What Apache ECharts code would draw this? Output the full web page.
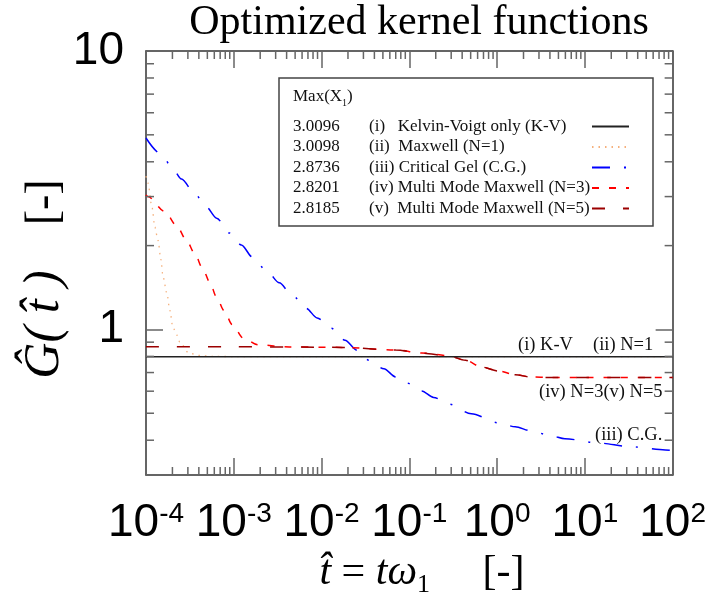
<!DOCTYPE html>
<html>
<head>
<meta charset="utf-8">
<script src="https://cdn.jsdelivr.net/npm/echarts@6/dist/echarts.min.js"></script>
<style>
  html, body { margin: 0; padding: 0; background: #fff; }
  #chart { width: 709px; height: 596px; }
</style>
</head>
<body>
<div id="chart"></div>
<script>
// legend rows
const seriesNames = [
  '(i)   Kelvin-Voigt only (K-V)',
  '(ii)  Maxwell (N=1)',
  '(iii) Critical Gel (C.G.)',
  '(iv) Multi Mode Maxwell (N=3)',
  '(v)  Multi Mode Maxwell (N=5)'
]
const maxX1 = ['3.0096', '3.0098', '2.8736', '2.8201', '2.8185']

// (i) Kelvin-Voigt only
const kvT = [1e-4, 1e-3, 1e-2, 1e-1, 1, 10, 100]
const kvG = [0.798, 0.798, 0.798, 0.798, 0.798, 0.798, 0.798]

// (ii) Maxwell N=1
const n1T = [1.0e-4, 1.05e-4, 1.17e-4, 1.26e-4, 1.37e-4, 1.48e-4, 1.56e-4, 1.73e-4, 1.87e-4, 2.02e-4, 2.24e-4, 2.43e-4, 3.07e-4, 4.0e-4, 6.0e-4, 1e-3, 1e-2, 1e-1, 1, 10, 100]
const n1G = [3.55, 3.36, 2.75, 2.33, 2.09, 1.78, 1.55, 1.35, 1.17, 1.02, 0.955, 0.90, 0.824, 0.806, 0.800, 0.799, 0.799, 0.799, 0.799, 0.799, 0.799]

// (iii) Critical gel
const cgT = [1.0e-4, 1.51e-4, 1.95e-4, 2.54e-4, 3.60e-4, 4.79e-4, 6.38e-4, 8.95e-4, 1.22e-3, 1.63e-3, 2.42e-3, 3.30e-3, 4.52e-3, 6.68e-3, 8.91e-3, 1.29e-2, 1.85e-2, 2.54e-2, 3.47e-2, 5.13e-2, 7.01e-2, 9.35e-2, 0.138, 0.189, 0.280, 0.509, 1.03, 1.61, 2.44, 4.11, 5.93, 14.0, 33.3, 82.8, 100]
const cgG = [4.87, 4.24, 3.84, 3.47, 3.07, 2.77, 2.51, 2.22, 2.01, 1.82, 1.61, 1.47, 1.34, 1.19, 1.10, 1.01, 0.915, 0.842, 0.775, 0.722, 0.675, 0.642, 0.601, 0.570, 0.540, 0.498, 0.462, 0.447, 0.432, 0.415, 0.405, 0.391, 0.379, 0.369, 0.367]

// (iv) Multi mode Maxwell N=3
const n3T = [1.0e-4, 1.05e-4, 1.64e-4, 2.23e-4, 2.89e-4, 3.60e-4, 4.40e-4, 5.32e-4, 6.34e-4, 7.73e-4, 9.61e-4, 1.29e-3, 1.88e-3, 4.30e-3, 1.71e-2, 7.01e-2, 0.138, 0.280, 0.436, 0.662, 1.03, 1.61, 2.44, 4.0, 10, 100]
const n3G = [3.04, 3.00, 2.65, 2.36, 2.09, 1.87, 1.66, 1.48, 1.31, 1.17, 1.04, 0.929, 0.880, 0.865, 0.862, 0.844, 0.823, 0.805, 0.776, 0.733, 0.710, 0.687, 0.675, 0.672, 0.672, 0.672]

// (v) Multi mode Maxwell N=5
const n5T = [1.0e-4, 1e-3, 4.30e-3, 1.71e-2, 7.01e-2, 0.138, 0.280, 0.436, 0.662, 1.03, 1.61, 2.44, 4.0, 10, 100]
const n5G = [0.866, 0.866, 0.865, 0.862, 0.843, 0.822, 0.803, 0.775, 0.733, 0.709, 0.687, 0.675, 0.672, 0.672, 0.672]

// minor ticks of the log axes
const decadesX = [1e-4, 1e-3, 1e-2, 1e-1, 1, 10]
const decadesY = [0.1, 1]
const minorSteps = [2, 3, 4, 5, 6, 7, 8, 9]

const X_MIN = 1e-4, X_MAX = 1e2, Y_MIN = 0.3, Y_MAX = 10
const SERIF = 'Liberation Serif'
const SANS = 'Liberation Sans'

const minorX = []
decadesX.forEach(d => minorSteps.forEach(m => minorX.push(m * d)))
const minorY = []
decadesY.forEach(d => minorSteps.forEach(m => {
  const v = m * d
  if (v > Y_MIN && v < Y_MAX) minorY.push(v)
}))

const zip = (a, b) => a.map((v, i) => [v, b[i]])

const chart = echarts.init(document.getElementById('chart'), null, { renderer: 'canvas' })

const tickColor = '#666'
const frameColor = '#333'

function axisCommon (pos, isX) {
  return {
    type: 'log',
    logBase: 10,
    position: pos,
    min: isX ? X_MIN : Y_MIN,
    max: isX ? X_MAX : Y_MAX,
    axisLine: { show: true, onZero: false, lineStyle: { color: frameColor, width: 1.5 } },
    axisTick: { show: true, inside: true, length: 17, lineStyle: { color: tickColor, width: 1.5 } },
    splitLine: { show: false },
    minorTick: { show: false },
    axisLabel: { show: false }
  }
}

const xBottom = axisCommon('bottom', true)
xBottom.axisLabel = {
  show: true,
  margin: 25,
  formatter: v => '{b|10}{s|' + Math.round(Math.log10(v)) + '}',
  rich: {
    b: { fontFamily: SANS, fontSize: 46, lineHeight: 46, color: '#000' },
    s: { fontFamily: SANS, fontSize: 28, lineHeight: 24, verticalAlign: 'top', color: '#000' }
  }
}
const xTop = axisCommon('top', true)

const yLeft = axisCommon('left', false)
yLeft.axisLabel = {
  show: true,
  margin: 22,
  fontFamily: SANS,
  fontSize: 46,
  color: '#000',
  formatter: v => {
    const e = Math.log10(v)
    if (Math.abs(e - Math.round(e)) > 1e-6) return ''
    return String(Math.round(v))
  }
}
const yRight = axisCommon('right', false)

function minorTickSeries (values, isX) {
  return {
    type: 'custom',
    silent: true,
    clip: false,
    xAxisIndex: 0,
    yAxisIndex: 0,
    z: 5,
    data: values.map(v => isX ? [v, 1] : [1, v]),
    renderItem: (params, api) => {
      const st = { stroke: tickColor, lineWidth: 1.5 }
      const len = 8
      if (isX) {
        const b = api.coord([api.value(0), Y_MIN])
        const t = api.coord([api.value(0), Y_MAX])
        return {
          type: 'group',
          children: [
            { type: 'line', shape: { x1: b[0], y1: b[1], x2: b[0], y2: b[1] - len }, style: st },
            { type: 'line', shape: { x1: t[0], y1: t[1], x2: t[0], y2: t[1] + len }, style: st }
          ]
        }
      }
      const l = api.coord([X_MIN, api.value(1)])
      const r = api.coord([X_MAX, api.value(1)])
      return {
        type: 'group',
        children: [
          { type: 'line', shape: { x1: l[0], y1: l[1], x2: l[0] + len, y2: l[1] }, style: st },
          { type: 'line', shape: { x1: r[0], y1: r[1], x2: r[0] - len, y2: r[1] }, style: st }
        ]
      }
    }
  }
}

function lineSeries (name, t, g, color, width, dash, z) {
  return {
    name: name,
    type: 'line',
    data: zip(t, g),
    symbol: 'none',
    smooth: 0.3,
    smoothMonotone: 'x',
    z: z,
    lineStyle: { color: color, width: width, type: dash },
    itemStyle: { color: color }
  }
}

const annStyle = { fontFamily: SERIF, fontSize: 18.5, fill: '#111' }
function ann (text, x, y) {
  return { type: 'text', x: x, y: y, style: Object.assign({ text: text, align: 'left', verticalAlign: 'middle' }, annStyle) }
}

const option = {
  animation: false,
  backgroundColor: '#fff',
  grid: { left: 146, top: 51, right: 34, bottom: 121, containLabel: false },
  xAxis: [xBottom, xTop],
  yAxis: [yLeft, yRight],
  legend: {
    data: seriesNames,
    orient: 'vertical',
    left: 279,
    top: 78,
    padding: [40, 23, 9, 14],
    itemGap: 3.5,
    itemWidth: 37,
    itemHeight: 21,
    align: 'right',
    selectedMode: false,
    borderColor: '#444',
    borderWidth: 1.5,
    itemStyle: { opacity: 0 },
    formatter: name => '{v|' + maxX1[seriesNames.indexOf(name)] + '}{n|' + name + '}',
    textStyle: {
      rich: {
        v: { fontFamily: SERIF, fontSize: 17, lineHeight: 21, width: 76, align: 'left', color: '#111' },
        n: { fontFamily: SERIF, fontSize: 17, lineHeight: 21, width: 218, align: 'left', color: '#111' }
      }
    }
  },
  graphic: [
    {
      type: 'text', x: 419, y: 23,
      style: { text: 'Optimized kernel functions', fontFamily: SERIF, fontSize: 42, fill: '#000', align: 'center', verticalAlign: 'middle' }
    },
    {
      type: 'text', x: 293, y: 97,
      style: {
        text: '{m|Max(X}{s|1}{m|)}',
        align: 'left', verticalAlign: 'middle',
        rich: {
          m: { fontFamily: SERIF, fontSize: 17, fill: '#111', lineHeight: 22 },
          s: { fontFamily: SERIF, fontSize: 10, fill: '#111', lineHeight: 22, verticalAlign: 'bottom' }
        }
      }
    },
    ann('(i) K-V', 518, 345),
    ann('(ii) N=1', 593, 345),
    ann('(iv) N=3(v) N=5', 539, 392),
    ann('(iii) C.G.', 595, 435),
    {
      type: 'text', x: 45, y: 279, rotation: Math.PI / 2,
      style: {
        text: '{g|Ĝ( t̂ )}{sp|      }{b|[-]}',
        align: 'center', verticalAlign: 'middle',
        rich: {
          g: { fontFamily: SERIF, fontStyle: 'italic', fontSize: 50, fill: '#000' },
          sp: { fontFamily: SERIF, fontSize: 30, fill: '#000' },
          b: { fontFamily: SERIF, fontSize: 46, fill: '#000' }
        }
      }
    },
    {
      type: 'text', x: 422, y: 573,
      style: {
        text: '{i|t̂}{o| = }{i|tω}{sub|1}{o|     [-]}',
        align: 'center', verticalAlign: 'middle',
        rich: {
          i: { fontFamily: SERIF, fontStyle: 'italic', fontSize: 42, fill: '#000', lineHeight: 50 },
          o: { fontFamily: SERIF, fontSize: 42, fill: '#000', lineHeight: 50 },
          sub: { fontFamily: SERIF, fontSize: 26, fill: '#000', lineHeight: 50, verticalAlign: 'bottom' }
        }
      }
    }
  ],
  series: [
    lineSeries(seriesNames[1], n1T, n1G, '#f5b07c', 1.3, [1.5, 5], 2),
    lineSeries(seriesNames[0], kvT, kvG, '#222', 1.5, 'solid', 3),
    lineSeries(seriesNames[2], cgT, cgG, '#0000ff', 1.5, [18, 14, 2, 14], 2),
    lineSeries(seriesNames[3], n3T, n3G, '#ff0000', 1.5, [7, 10], 2),
    lineSeries(seriesNames[4], n5T, n5G, '#9b0000', 1.5, [13, 18], 2),
    minorTickSeries(minorX, true),
    minorTickSeries(minorY, false)
  ]
}

chart.setOption(option)
</script>
</body>
</html>
